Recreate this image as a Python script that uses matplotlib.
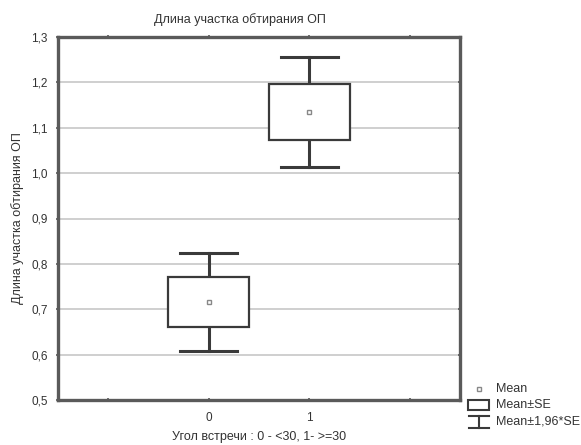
import matplotlib
matplotlib.use("Agg")
import matplotlib.pyplot as plt
from matplotlib.patches import Rectangle

plt.rcParams['font.family'] = ['Liberation Sans', 'DejaVu Sans']

# ---- data ----
categories = [0, 1]
cat_labels = ["0", "1"]
means = [0.716, 1.134]
se = [0.055, 0.062]
yticks = [0.5, 0.6, 0.7, 0.8, 0.9, 1.0, 1.1, 1.2, 1.3]
ytick_labels = ["0,5", "0,6", "0,7", "0,8", "0,9", "1,0", "1,1", "1,2", "1,3"]
title = "Длина участка обтирания ОП"
ylabel = "Длина участка обтирания ОП"
xlabel = "Угол встречи : 0 - <30, 1- >=30"
legend_labels = ["Mean", "Mean±SE", "Mean±1,96*SE"]

W, H = 581, 445
fig = plt.figure(figsize=(W / 100, H / 100), dpi=100)
L, R, T, B = 58, 460, 37, 400
ax = fig.add_axes([L / W, 1 - B / H, (R - L) / W, (B - T) / H])

frame_c = "#5a5a5a"
line_c = "#3a3a3a"
text_c = "#333333"

ax.set_xlim(-1.5, 2.5)
ax.set_ylim(0.5, 1.3)
for y in yticks[1:-1]:
    ax.axhline(y, color="#cccccc", lw=1.3, zorder=0)

box_w = 0.81
cap_w = 0.57
for x, m, s in zip(categories, means, se):
    lo2, hi2 = m - 1.96 * s, m + 1.96 * s
    ax.add_patch(Rectangle((x - box_w / 2, m - s), box_w, 2 * s, facecolor="white",
                           edgecolor=line_c, lw=1.6, zorder=3))
    ax.plot([x, x], [m + s, hi2], color=line_c, lw=2.2, zorder=2)
    ax.plot([x, x], [m - s, lo2], color=line_c, lw=2.2, zorder=2)
    ax.plot([x - cap_w / 2, x + cap_w / 2], [hi2, hi2], color=line_c, lw=2.2, zorder=2)
    ax.plot([x - cap_w / 2, x + cap_w / 2], [lo2, lo2], color=line_c, lw=2.2, zorder=2)
    ax.plot([x], [m], marker="s", ms=3.5, mfc="white", mec="#888888", mew=1.0, zorder=4)

ax.set_xticks([-1, 0, 1, 2])
ax.set_xticklabels(["", cat_labels[0], cat_labels[1], ""])
ax.set_yticks(yticks)
ax.set_yticklabels(ytick_labels)
ax.tick_params(axis="both", which="both", direction="inout", length=3, width=1.2,
               color=frame_c, labelsize=8.5, labelcolor=text_c, top=True, right=True,
               labeltop=False, labelright=False)
ax.tick_params(axis="x", pad=7)
ax.tick_params(axis="y", pad=6)
for sp in ax.spines.values():
    sp.set_color(frame_c)
    sp.set_linewidth(2.4)

ax.set_xlabel(xlabel, fontsize=9, color=text_c, labelpad=5)
ax.set_ylabel(ylabel, fontsize=9, color=text_c, labelpad=5)
fig.text(240 / W, 1 - 20 / H, title, fontsize=9, color=text_c, ha="center", va="center")

# ---- legend drawn in pixel coordinates ----
lg = fig.add_axes([0, 0, 1, 1])
lg.set_xlim(0, W)
lg.set_ylim(H, 0)
lg.axis("off")
lg.plot([479], [389], marker="s", ms=3.5, mfc="white", mec="#888888", mew=1.0)
lg.add_patch(Rectangle((468, 400), 21, 10, facecolor="white", edgecolor=line_c, lw=1.5))
lg.plot([469, 489], [416, 416], color=line_c, lw=1.5)
lg.plot([479, 479], [416, 428], color=line_c, lw=1.5)
lg.plot([469, 489], [428, 428], color=line_c, lw=1.5)
for yy, lab in zip([389, 405.5, 421], legend_labels):
    lg.text(496, yy, lab, fontsize=9, color=text_c, ha="left", va="center")

fig.savefig("out.png", dpi=100)
